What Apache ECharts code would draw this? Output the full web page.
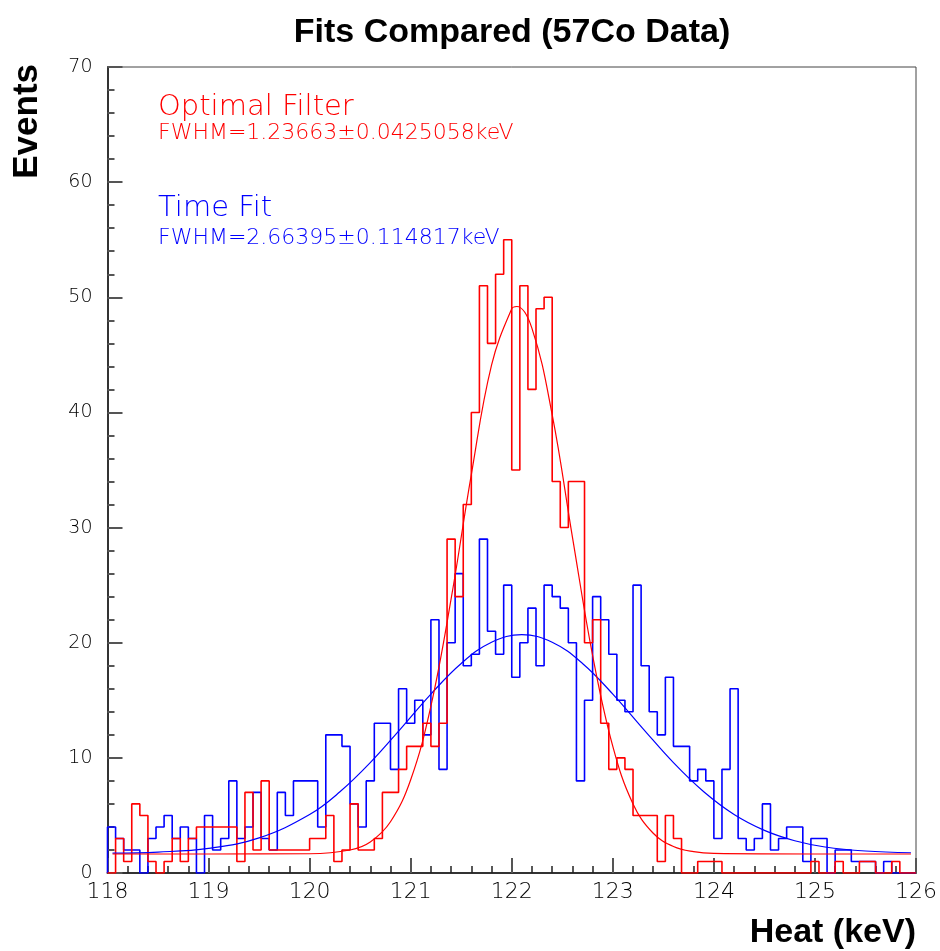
<!DOCTYPE html>
<html>
<head>
<meta charset="utf-8">
<script src="https://cdn.jsdelivr.net/npm/echarts@6/dist/echarts.min.js"></script>
<style>
html,body{margin:0;padding:0;background:#fff;}
#chart{width:940px;height:951px;}
</style>
</head>
<body>
<div id="chart"></div>
<script>
// binning of both histograms
var binLow = 118;
var binWidth = 0.08;
var nBins = 100;

// Optimal Filter histogram (counts per bin)
var optimalCounts = [
    0,3,1,6,5,1,0,1,3,1, 3,4,4,4,4,4,1,7,2,8,
    2,2,2,2,2,3,3,5,1,2, 6,2,2,3,7,7,9,11,11,13,
    11,13,29,24,32,40,51,46,52,55, 35,51,42,49,50,34,30,34,34,20,
    22,13,9,10,9,5,5,5,1,5, 3,0,0,1,1,1,0,0,0,0,
    0,0,0,0,0,0,0,1,0,0, 1,0,0,1,1,0,0,1,0,0
];

// Time Fit histogram (counts per bin)
var timeCounts = [
    4,3,2,2,0,3,4,5,3,4, 3,0,5,2,3,8,3,4,7,3,
    2,7,5,8,8,8,4,12,12,11, 6,4,8,13,13,9,16,13,15,12,
    22,9,20,26,18,19,29,21,19,25, 17,20,23,18,25,24,23,20,8,15,
    24,22,19,15,14,25,18,14,12,17, 11,11,8,9,8,3,9,16,3,2,
    3,6,2,3,4,4,1,3,3,0, 2,2,1,1,1,0,1,0,0,0
];

// fit curves: [keV, events]
var optimalFit = [
    [118.05,1.65],[119,1.65],[120,1.67],[120.4,2.0],[120.6,2.7],[120.8,4.45],
    [121.0,8.1],[121.2,14.5],[121.4,23.8],[121.6,34.6],[121.8,44.1],[122.0,49.0],
    [122.05,49.2],[122.2,47.3],[122.4,39.8],[122.6,29.2],[122.8,18.9],[123.0,11.0],
    [123.2,6.0],[123.4,3.45],[123.6,2.3],[123.8,1.85],[124.0,1.7],[125,1.65],[125.95,1.65]
];
var timeFit = [
    [118.05,1.73],[118.5,1.82],[119.0,2.14],[119.5,3.05],[120.0,5.08],[120.3,7.05],
    [120.6,9.58],[120.9,12.52],[121.2,15.54],[121.5,18.2],[121.8,20.04],[122.1,20.7],
    [122.4,20.04],[122.7,18.2],[123.0,15.54],[123.3,12.52],[123.6,9.58],[123.9,7.05],
    [124.2,5.08],[124.5,3.7],[124.8,2.8],[125.1,2.26],[125.5,1.91],[125.95,1.76]
];

var xTicks = [118,119,120,121,122,123,124,125,126];
var yTicks = [0,10,20,30,40,50,60,70];

var labelOptimal = 'Optimal Filter';
var labelOptimalFwhm = 'FWHM=1.23663\u00b10.0425058keV';
var labelTime = 'Time Fit';
var labelTimeFwhm = 'FWHM=2.66395\u00b10.114817keV';

function histLine(counts){
    var pts = [[binLow, 0]];
    for (var i = 0; i < counts.length; i++) {
        pts.push([binLow + i * binWidth, counts[i]]);
    }
    var hi = binLow + nBins * binWidth;
    pts.push([hi, counts[counts.length - 1]]);
    pts.push([hi, 0]);
    return pts;
}

var thinFont = 'DejaVu Sans';
var boldFont = 'Liberation Sans';

var chart = echarts.init(document.getElementById('chart'));
var option = {
    animation: false,
    backgroundColor: '#fff',
    grid: {
        left: 107.5, right: 23, top: 67, bottom: 78,
        show: true, borderColor: '#444', borderWidth: 1
    },
    xAxis: {
        type: 'value',
        min: xTicks[0], max: xTicks[xTicks.length - 1], interval: 1,
        axisLine: {lineStyle: {color: '#333', width: 2}},
        axisTick: {inside: true, length: 15, lineStyle: {color: '#555', width: 2}},
        minorTick: {show: true, splitNumber: 5, length: 7, lineStyle: {color: '#222', width: 1.5}},
        axisLabel: {color: '#000', fontFamily: thinFont, fontWeight: 200, fontSize: 22, margin: 8},
        splitLine: {show: false}
    },
    yAxis: {
        type: 'value',
        min: yTicks[0], max: yTicks[yTicks.length - 1], interval: 10,
        axisLine: {show: true, lineStyle: {color: '#333', width: 2}},
        axisTick: {show: true, inside: true, length: 15, lineStyle: {color: '#555', width: 2}},
        minorTick: {show: true, splitNumber: 5, length: 7, lineStyle: {color: '#555', width: 2}},
        axisLabel: {color: '#000', fontFamily: thinFont, fontWeight: 200, fontSize: 19, margin: 15},
        splitLine: {show: false}
    },
    series: [
        {
            name: 'Time Fit', type: 'line', step: 'end', symbol: 'none',
            data: histLine(timeCounts),
            lineStyle: {color: '#0000ff', width: 1.6}
        },
        {
            name: 'Optimal Filter', type: 'line', step: 'end', symbol: 'none',
            data: histLine(optimalCounts),
            lineStyle: {color: '#ff0000', width: 1.6}
        },
        {
            name: 'Time Fit curve', type: 'line', smooth: 0.4, symbol: 'none',
            data: timeFit,
            lineStyle: {color: '#0000ff', width: 1.2}
        },
        {
            name: 'Optimal Filter curve', type: 'line', smooth: 0.4, symbol: 'none',
            data: optimalFit,
            lineStyle: {color: '#ff0000', width: 1.2}
        }
    ],
    graphic: [
        {type: 'text', x: 512, y: 33, style: {text: 'Fits Compared (57Co Data)', font: 'bold 34px "' + boldFont + '"', fill: '#000', align: 'center', verticalAlign: 'middle'}},
        {type: 'text', x: 27, y: 64, rotation: Math.PI / 2, style: {text: 'Events', font: 'bold 35px "' + boldFont + '"', fill: '#000', align: 'right', verticalAlign: 'middle'}},
        {type: 'text', x: 916, y: 933, style: {text: 'Heat (keV)', font: 'bold 34px "' + boldFont + '"', fill: '#000', align: 'right', verticalAlign: 'middle'}},
        {type: 'text', x: 158, y: 107, style: {text: labelOptimal, font: '200 29px "' + thinFont + '"', fill: '#ff0000', verticalAlign: 'middle'}},
        {type: 'text', x: 158, y: 133, style: {text: labelOptimalFwhm, font: '200 22px "' + thinFont + '"', fill: '#ff0000', verticalAlign: 'middle'}},
        {type: 'text', x: 158, y: 208, style: {text: labelTime, font: '200 29px "' + thinFont + '"', fill: '#0000ff', verticalAlign: 'middle'}},
        {type: 'text', x: 158, y: 238, style: {text: labelTimeFwhm, font: '200 22px "' + thinFont + '"', fill: '#0000ff', verticalAlign: 'middle'}}
    ]
};
chart.setOption(option);
</script>
</body>
</html>
